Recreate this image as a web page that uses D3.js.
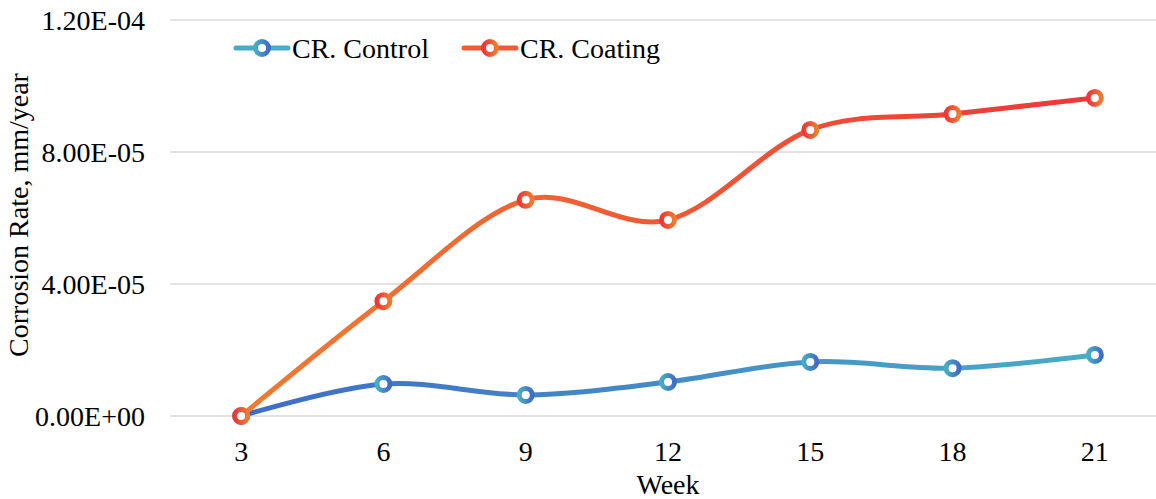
<!DOCTYPE html>
<html>
<head>
<meta charset="utf-8">
<script src="https://cdn.jsdelivr.net/npm/d3@7"></script>
<style>
  body { margin: 0; background: #fff; }
</style>
</head>
<body>
<div id="chart"></div>
<script>
var svgWidth = 1156;
var svgHeight = 499;
var fontFamily = "'Liberation Serif', 'Times New Roman', Times, 'DejaVu Serif', serif";
var fontSize = "28px";

// data
var weeks = [3, 6, 9, 12, 15, 18, 21];
var controlValues = [0, 9.7e-6, 6.4e-6, 1.03e-5, 1.64e-5, 1.45e-5, 1.85e-5];
var coatingValues = [0, 3.48e-5, 6.55e-5, 5.94e-5, 8.67e-5, 9.15e-5, 9.64e-5];
var yTicks = [0, 4e-5, 8e-5, 1.2e-4];
var yTickLabels = ["0.00E+00", "4.00E-05", "8.00E-05", "1.20E-04"];

var margin = { top: 20, right: -10, bottom: 83, left: 170 };
var width = svgWidth - margin.left - margin.right;
var height = svgHeight - margin.top - margin.bottom;

var svg = d3.select("#chart")
  .append("svg")
  .attr("width", svgWidth)
  .attr("height", svgHeight)
  .attr("font-family", fontFamily)
  .style("font-family", fontFamily);

var defs = svg.append("defs");

// gradients for lines (across the plot) and markers (across each marker)
function addGradient(id, from, to, units) {
  var g = defs.append("linearGradient").attr("id", id);
  if (units) {
    g.attr("gradientUnits", "userSpaceOnUse")
      .attr("x1", units[0]).attr("x2", units[1])
      .attr("y1", 0).attr("y2", 0);
  }
  g.append("stop").attr("offset", "0%").attr("stop-color", from);
  g.append("stop").attr("offset", "100%").attr("stop-color", to);
}

var chartGroup = svg.append("g")
  .attr("transform", `translate(${margin.left}, ${margin.top})`);

var xScale = d3.scalePoint()
  .domain(weeks)
  .range([0, width])
  .padding(0.5);

var yScale = d3.scaleLinear()
  .domain([0, 1.2e-4])
  .range([height, 0]);

addGradient("ctrlLine", "#3f6cc8", "#48acc4", [xScale(3), xScale(21)]);
addGradient("coatLine", "#f07b30", "#ee3639", [xScale(3), xScale(21)]);
addGradient("ctrlMark", "#48acc6", "#3f6cc8");
addGradient("coatMark", "#ee3639", "#f07b30");

// gridlines
chartGroup.append("g")
  .selectAll("line")
  .data(yTicks)
  .enter()
  .append("line")
  .attr("x1", 0)
  .attr("x2", width)
  .attr("y1", d => yScale(d))
  .attr("y2", d => yScale(d))
  .attr("stroke", "#d9d9d9")
  .attr("stroke-width", 1.5);

// y tick labels
chartGroup.append("g")
  .selectAll("text")
  .data(yTicks)
  .enter()
  .append("text")
  .attr("x", -25)
  .attr("y", d => yScale(d))
  .attr("dy", "0.35em")
  .attr("text-anchor", "end")
  .style("font-size", fontSize)
  .text((d, i) => yTickLabels[i]);

// x tick labels
chartGroup.append("g")
  .selectAll("text")
  .data(weeks)
  .enter()
  .append("text")
  .attr("x", d => xScale(d))
  .attr("y", height + 45)
  .attr("text-anchor", "middle")
  .style("font-size", fontSize)
  .text(d => d);

// axis titles
chartGroup.append("text")
  .attr("x", 498)
  .attr("y", height + 78)
  .attr("text-anchor", "middle")
  .style("font-size", fontSize)
  .text("Week");

chartGroup.append("text")
  .attr("transform", "rotate(-90)")
  .attr("x", -195)
  .attr("y", -142)
  .attr("text-anchor", "middle")
  .style("font-size", fontSize)
  .text("Corrosion Rate, mm/year");

var series = [
  { name: "CR. Control", values: controlValues, line: "ctrlLine", mark: "ctrlMark", legendStroke: "#48acc6" },
  { name: "CR. Coating", values: coatingValues, line: "coatLine", mark: "coatMark", legendStroke: "#f05a36" }
];

var line = d3.line()
  .x((d, i) => xScale(weeks[i]))
  .y(d => yScale(d))
  .curve(d3.curveCatmullRom.alpha(0));

series.forEach(function(s) {
  chartGroup.append("path")
    .datum(s.values)
    .attr("d", line)
    .attr("fill", "none")
    .attr("stroke", `url(#${s.line})`)
    .attr("stroke-width", 5)
    .attr("stroke-linecap", "round");
});

series.forEach(function(s) {
  chartGroup.selectAll(null)
    .data(s.values)
    .enter()
    .append("circle")
    .attr("cx", (d, i) => xScale(weeks[i]))
    .attr("cy", d => yScale(d))
    .attr("r", 6.5)
    .attr("fill", "#fff")
    .attr("stroke", `url(#${s.mark})`)
    .attr("stroke-width", 5);
});

// legend
var legend = svg.append("g")
  .attr("transform", "translate(234, 48)");

var legendX = [0, 228];
series.forEach(function(s, i) {
  var item = legend.append("g")
    .attr("transform", `translate(${legendX[i]}, 0)`);
  item.append("line")
    .attr("x1", 2).attr("x2", 54)
    .attr("y1", 0).attr("y2", 0)
    .attr("stroke", s.legendStroke)
    .attr("stroke-width", 5)
    .attr("stroke-linecap", "round");
  item.append("circle")
    .attr("cx", 28).attr("cy", 0)
    .attr("r", 6.5)
    .attr("fill", "#fff")
    .attr("stroke", `url(#${s.mark})`)
    .attr("stroke-width", 5);
  item.append("text")
    .attr("x", 58)
    .attr("y", 0)
    .attr("dy", "0.35em")
    .style("font-size", fontSize)
    .text(s.name);
});
</script>
</body>
</html>
